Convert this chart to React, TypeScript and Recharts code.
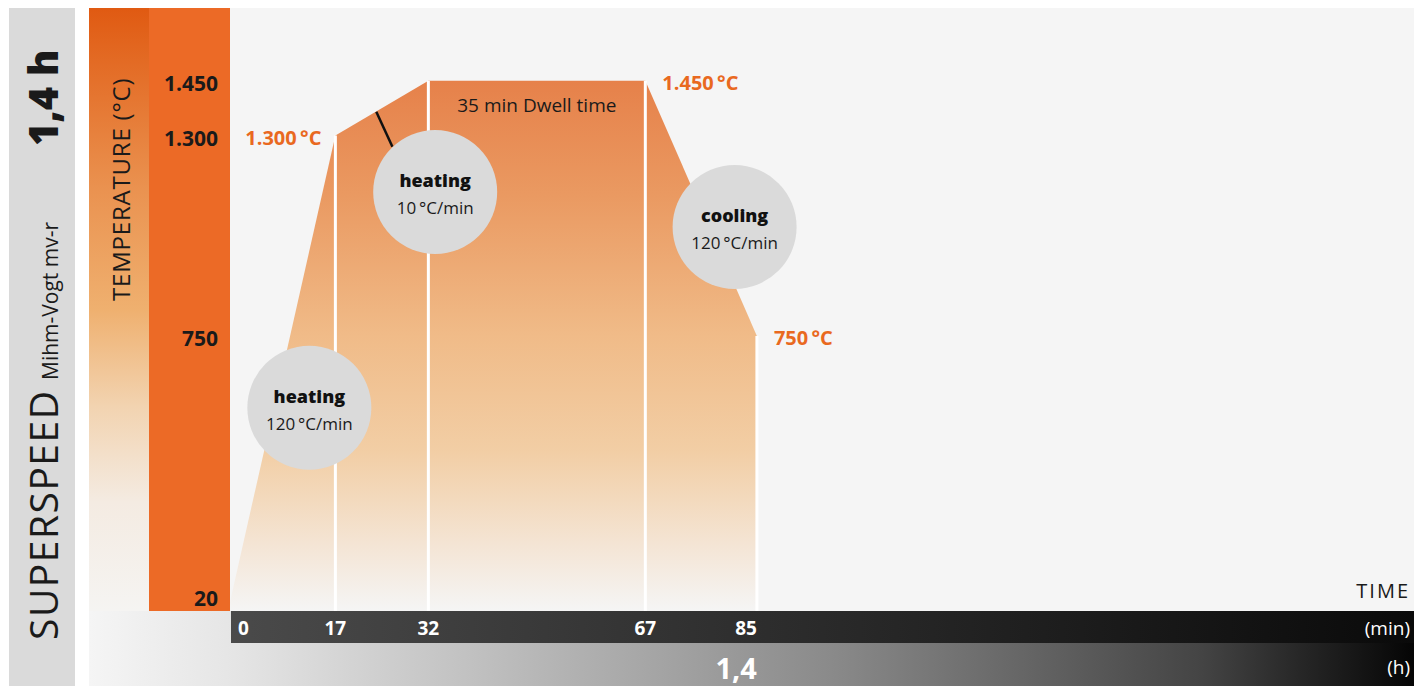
import {
  Area,
  ComposedChart,
  ReferenceDot,
  ReferenceLine,
  XAxis,
  YAxis,
} from "recharts";

// firing profile (minutes / °C)
const minutes = [0, 17, 32, 67, 85];
const temps = [20, 1300, 1450, 1450, 750];

const tempTicks = [20, 750, 1300, 1450];
const tempTickLabels = ["20", "750", "1.300", "1.450"];
const minuteTicks = [0, 17, 32, 67, 85];
const hourTicks = [85];
const hourTickLabels = ["1,4"];

// rate bubbles
const phaseNames = ["heating", "heating", "cooling"];
const phaseRates = ["120\u2009°C/min", "10\u2009°C/min", "120\u2009°C/min"];
const phaseMin = [12.8, 33.1, 81.4];
const phaseTemp = [553, 1145, 1049];

// temperature callouts
const calloutMin = [17, 67, 85];
const calloutTemp = [1300, 1450, 750];
const calloutText = ["1.300\u2009°C", "1.450\u2009°C", "750\u2009°C"];
const calloutSide = ["left", "right", "right"];

// pointer from heating bubble to the slope
const pointerMin = [23.6, 26.2];
const pointerTemp = [1365, 1269];

const dwellMin = (32 + 67) / 2;
const dwellTemp = 1384;
const dwellText = "35 min Dwell time";

const FONT = "'Open Sans', 'Noto Sans', sans-serif";
const ORANGE = "#e9691f";
const MIN_AXIS = 0;
const HOUR_AXIS = 1;

const data = minutes.map((m, i) => ({ min: m, temp: temps[i] }));

function MinuteTick(props: any) {
  const { x, y, payload, index } = props;
  const last = minuteTicks.length - 1;
  const anchor = index === 0 ? "start" : index === last ? "end" : "middle";
  return (
    <text
      x={index === 0 ? x + 8 : x}
      y={y + 17}
      textAnchor={anchor}
      dominantBaseline="central"
      fill="#fff"
      fontFamily={FONT}
      fontSize={19}
      fontWeight={700}
    >
      {payload.value}
    </text>
  );
}

function HourTick(props: any) {
  const { x, y, index } = props;
  return (
    <text
      x={x}
      y={y + 24}
      textAnchor="end"
      dominantBaseline="central"
      fill="#fff"
      fontFamily={FONT}
      fontSize={29}
      fontWeight={700}
    >
      {hourTickLabels[index]}
    </text>
  );
}

function TempTick(props: any) {
  const { x, y, payload } = props;
  const i = tempTicks.indexOf(payload.value);
  return (
    <text
      x={x}
      y={payload.value === 20 ? y - 4 : y + 2}
      textAnchor="end"
      dominantBaseline="central"
      fill="#1a1a1a"
      fontFamily={FONT}
      fontSize={21}
      fontWeight={700}
    >
      {tempTickLabels[i]}
    </text>
  );
}

function Backdrop() {
  return (
    <svg width={1424} height={686} style={{ position: "absolute", left: 0, top: 0 }}>
      <defs>
        <linearGradient id="strip" x1="0" y1="0" x2="0" y2="1">
          <stop offset="0" stopColor="#e05a12" />
          <stop offset="0.3" stopColor="#ea9250" />
          <stop offset="0.5" stopColor="#efb06f" />
          <stop offset="0.66" stopColor="#f2d3b0" />
          <stop offset="0.82" stopColor="#f4ebe2" />
          <stop offset="1" stopColor="#f5f4f2" />
        </linearGradient>
        <linearGradient id="hourBar" x1="0" y1="0" x2="1" y2="0">
          <stop offset="0" stopColor="#f5f5f5" />
          <stop offset="0.11" stopColor="#e5e5e5" />
          <stop offset="0.56" stopColor="#8a8a8a" />
          <stop offset="0.84" stopColor="#444" />
          <stop offset="1" stopColor="#050505" />
        </linearGradient>
        <linearGradient id="minBar" x1="0" y1="0" x2="1" y2="0">
          <stop offset="0" stopColor="#4a4a4a" />
          <stop offset="1" stopColor="#0a0a0a" />
        </linearGradient>
      </defs>
      <rect x={9} y={8} width={66} height={678} fill="#dadada" />
      <rect x={89} y={8} width={60} height={603} fill="url(#strip)" />
      <rect x={149} y={8} width={82} height={603} fill="#ec6a26" />
      <rect x={230} y={8} width={1184} height={603} fill="#f5f5f5" />
      <rect x={89} y={611} width={1325} height={75} fill="url(#hourBar)" />
      <rect x={231} y={611} width={1183} height={32} fill="url(#minBar)" />

      <g fontFamily={FONT} fill="#1a1a1a">
        <text transform="translate(58,640) rotate(-90)" fontSize={39} fontWeight={400} letterSpacing={1.5}>
          SUPERSPEED
        </text>
        <text transform="translate(58,380) rotate(-90)" fontSize={21}>
          Mihm-Vogt mv-r
        </text>
        <text transform="translate(58,146) rotate(-90)" fontSize={40} fontWeight={800}>
          1,4 h
        </text>
        <text transform="translate(130,301) rotate(-90)" fontSize={24} letterSpacing={0.8}>
          TEMPERATURE (°C)
        </text>
        <text x={1410} y={598} textAnchor="end" fontSize={20} letterSpacing={2}>
          TIME
        </text>
        <text x={1410} y={635} textAnchor="end" fontSize={19} fill="#fff">
          (min)
        </text>
        <text x={1410} y={674} textAnchor="end" fontSize={19} fill="#fff">
          (h)
        </text>
      </g>
    </svg>
  );
}

export default function App() {
  return (
    <div style={{ position: "absolute", left: 0, top: 0, width: 1424, height: 686 }}>
      <Backdrop />
      <div style={{ position: "absolute", left: 0, top: 0 }}>
        <ComposedChart
          width={1424}
          height={686}
          data={data}
          margin={{ top: 8, right: 10, bottom: 0, left: 0 }}
        >
          <defs>
            <linearGradient id="heat" x1="0" y1="0" x2="0" y2="1">
              <stop offset="0" stopColor="#e6814a" />
              <stop offset="0.22" stopColor="#ea9a62" />
              <stop offset="0.48" stopColor="#f0bb88" />
              <stop offset="0.7" stopColor="#f2cea5" />
              <stop offset="0.87" stopColor="#f4e4d3" />
              <stop offset="1" stopColor="#f5f5f5" />
            </linearGradient>
          </defs>
          <XAxis
            xAxisId={MIN_AXIS}
            dataKey="min"
            type="number"
            domain={[0, 191]}
            ticks={minuteTicks}
            interval={0}
            height={32}
            axisLine={false}
            tickLine={false}
            tickSize={0}
            tickMargin={0}
            tick={<MinuteTick />}
          />
          <XAxis
            xAxisId={HOUR_AXIS}
            dataKey="min"
            type="number"
            domain={[0, 191]}
            ticks={hourTicks}
            interval={0}
            height={43}
            axisLine={false}
            tickLine={false}
            tickSize={0}
            tickMargin={0}
            tick={<HourTick />}
          />
          <YAxis
            type="number"
            domain={[-5, 1650]}
            ticks={tempTicks}
            interval={0}
            width={230}
            axisLine={false}
            tickLine={false}
            tickSize={0}
            tickMargin={12}
            tick={<TempTick />}
          />
          <Area
            xAxisId={MIN_AXIS}
            dataKey="temp"
            type="linear"
            baseValue="dataMin"
            fill="url(#heat)"
            fillOpacity={1}
            stroke="none"
            isAnimationActive={false}
          />
          {minutes.slice(1).map((m, i) => (
            <ReferenceLine
              key={"v" + m}
              xAxisId={MIN_AXIS}
              segment={[
                { x: m, y: -5 },
                { x: m, y: temps[i + 1] },
              ]}
              stroke="#ffffff"
              strokeWidth={3}
            />
          ))}
          <ReferenceLine
            xAxisId={MIN_AXIS}
            segment={[
              { x: pointerMin[0], y: pointerTemp[0] },
              { x: pointerMin[1], y: pointerTemp[1] },
            ]}
            stroke="#111"
            strokeWidth={2.5}
          />
          {phaseNames.map((name, i) => (
            <ReferenceDot
              key={"p" + i}
              xAxisId={MIN_AXIS}
              x={phaseMin[i]}
              y={phaseTemp[i]}
              r={62}
              shape={(p: any) => (
                <g fontFamily={FONT}>
                  <circle cx={p.cx} cy={p.cy} r={62} fill="#dadada" />
                  <text
                    x={p.cx}
                    y={p.cy - 12}
                    textAnchor="middle"
                    dominantBaseline="central"
                    fontSize={18}
                    fontWeight={800}
                    fill="#111"
                  >
                    {name}
                  </text>
                  <text
                    x={p.cx}
                    y={p.cy + 16}
                    textAnchor="middle"
                    dominantBaseline="central"
                    fontSize={17}
                    fill="#1a1a1a"
                  >
                    {phaseRates[i]}
                  </text>
                </g>
              )}
            />
          ))}
          {calloutText.map((t, i) => (
            <ReferenceDot
              key={"c" + i}
              xAxisId={MIN_AXIS}
              x={calloutMin[i]}
              y={calloutTemp[i]}
              r={0}
              shape={(p: any) => (
                <text
                  x={calloutSide[i] === "left" ? p.cx - 14 : p.cx + 17}
                  y={p.cy + 2}
                  textAnchor={calloutSide[i] === "left" ? "end" : "start"}
                  dominantBaseline="central"
                  fontFamily={FONT}
                  fontSize={20}
                  fontWeight={700}
                  fill={ORANGE}
                >
                  {t}
                </text>
              )}
            />
          ))}
          <ReferenceDot
            xAxisId={MIN_AXIS}
            x={dwellMin}
            y={dwellTemp}
            r={0}
            shape={(p: any) => (
              <text
                x={p.cx}
                y={p.cy}
                textAnchor="middle"
                dominantBaseline="central"
                fontFamily={FONT}
                fontSize={19}
                fill="#1a1a1a"
              >
                {dwellText}
              </text>
            )}
          />
        </ComposedChart>
      </div>
    </div>
  );
}
